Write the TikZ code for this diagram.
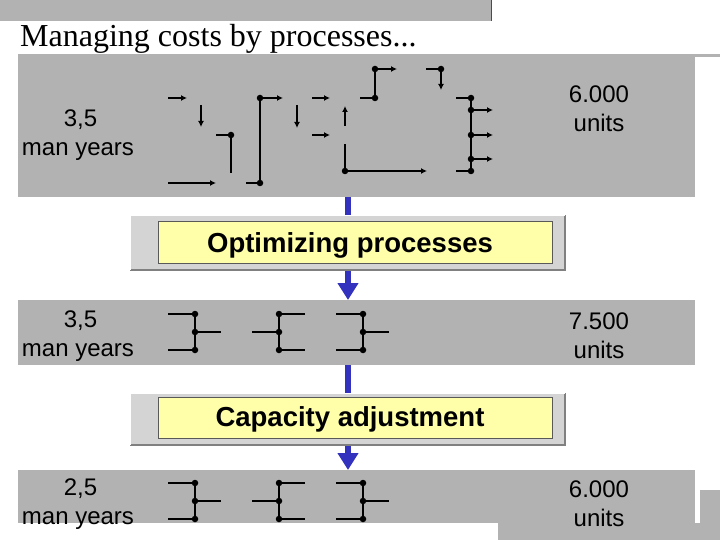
\documentclass[tikz,border=0pt]{standalone}
\usepackage{fontspec}
\setmainfont{Liberation Sans}
\newfontfamily\serifttl{Liberation Serif}
\usetikzlibrary{arrows.meta}
\definecolor{pgray}{RGB}{178,178,178}
\definecolor{lgray}{RGB}{212,212,212}
\definecolor{pyel}{RGB}{255,255,170}
\definecolor{pblue}{RGB}{50,50,190}
\begin{document}
\begin{tikzpicture}[x=1pt,y=-1pt,
  ln/.style={line width=1.8pt},
  ar/.style={line width=1.8pt,-{Latex[length=6pt,width=6pt]}},
  dt/.style={circle,fill=black,inner sep=0pt,minimum size=6.5pt},
  lbl/.style={font=\fontsize{24}{26}\selectfont,align=center,inner sep=0pt},
  boxt/.style={font=\bfseries\fontsize{27.5}{30}\selectfont,inner sep=0pt},
  pics/symA/.style={code={
    \node[dt] (a1) at (0,-18) {}; \node[dt] (a2) at (0,0) {}; \node[dt] (a3) at (0,18) {};
    \coordinate (l1) at (-27,-18); \coordinate (l3) at (-27,18); \coordinate (r2) at (26,0);
    \draw[ln] (l1) -- (a1.center) -- (a3.center) -- (l3); \draw[ln] (a2.center) -- (r2);}},
  pics/symB/.style={code={
    \node[dt] (a1) at (0,-18) {}; \node[dt] (a2) at (0,0) {}; \node[dt] (a3) at (0,18) {};
    \coordinate (l1) at (26,-18); \coordinate (l3) at (26,18); \coordinate (r2) at (-27,0);
    \draw[ln] (l1) -- (a1.center) -- (a3.center) -- (l3); \draw[ln] (a2.center) -- (r2);}}]
\useasboundingbox (0,0) rectangle (720,540);
% frame decorations
\fill[pgray] (0,0) rectangle (491,21);
\draw[gray!60!black] (491,0) -- (491,21);
\fill[pgray] (18,54) rectangle (720,57);
\node[anchor=west,inner sep=0pt,font=\serifttl\fontsize{32}{34}\selectfont] (title) at (20,39) {Managing costs by processes...};
% panels
\fill[pgray] (18,55) rectangle (695,197);
\fill[pgray] (18,300) rectangle (695,365);
\fill[pgray] (18,470) rectangle (695,523);
\fill[pgray] (498,523) rectangle (720,540);
\fill[pgray] (700,490) rectangle (720,523);
% blue arrows
\coordinate (b0) at (348,197);
\coordinate (b1) at (348,300);
\coordinate (b2) at (348,365);
\coordinate (b3) at (348,470);
\draw[pblue,line width=6pt,-{Triangle[length=17pt,width=20pt]}] (b0) -- (b1);
\draw[pblue,line width=6pt,-{Triangle[length=17pt,width=20pt]}] (b2) -- (b3);
% boxes
\fill[lgray] (130,215) rectangle (565,270);
\draw[gray,line width=1.5pt] (130,270) -- (565,270) -- (565,215);
\draw[white] (130,270) -- (130,215) -- (565,215);
\fill[pyel] (158,221) rectangle (552,263);
\draw[gray!70!black] (158,221) rectangle (552,263);
\node[boxt] (opt) at (350,245) {Optimizing processes};
\fill[lgray] (130,393) rectangle (565,445);
\draw[gray,line width=1.5pt] (130,445) -- (565,445) -- (565,393);
\draw[white] (130,445) -- (130,393) -- (565,393);
\fill[pyel] (158,397) rectangle (552,438);
\draw[gray!70!black] (158,397) rectangle (552,438);
\node[boxt] (cap) at (350,419) {Capacity adjustment};
% labels
\node[lbl] (m1) at (78,135) {\hspace*{5pt}3,5\\[3pt]man years};
\node[lbl] (u1) at (599,109) {6.000\\[3pt]units};
\node[lbl] (m2) at (78,336) {\hspace*{5pt}3,5\\[3pt]man years};
\node[lbl] (u2) at (599,336) {7.500\\[3pt]units};
\node[lbl] (m3) at (78,504) {\hspace*{5pt}2,5\\[3pt]man years};
\node[lbl] (u3) at (599,504) {6.000\\[3pt]units};
% top process map
\coordinate (p1) at (168,98); \coordinate (p2) at (187,98); \draw[ar] (p1) -- (p2);
\coordinate (p3) at (201,105); \coordinate (p4) at (201,127); \draw[ar] (p3) -- (p4);
\coordinate (p5) at (216,135); \node[dt] (d1) at (231,135) {}; \coordinate (p6) at (231,173);
\draw[ln] (p5) -- (d1.center) -- (p6);
\coordinate (p7) at (168,183); \coordinate (p8) at (216,183); \draw[ar] (p7) -- (p8);
\coordinate (p9) at (246,183); \node[dt] (d2) at (260,183) {}; \node[dt] (d3) at (260,98) {}; \coordinate (p10) at (283,98);
\draw[ln] (p9) -- (d2.center) -- (d3.center); \draw[ar] (d3.center) -- (p10);
\coordinate (p11) at (297,105); \coordinate (p12) at (297,128); \draw[ar] (p11) -- (p12);
\coordinate (p13) at (312,98); \coordinate (p14) at (330,98); \draw[ar] (p13) -- (p14);
\coordinate (p15) at (312,135); \coordinate (p16) at (330,135); \draw[ar] (p15) -- (p16);
\coordinate (p17) at (345,126); \coordinate (p18) at (345,106); \draw[ar] (p17) -- (p18);
\coordinate (p19) at (345,144); \node[dt] (d4) at (345,171) {}; \coordinate (p20) at (427,171);
\draw[ln] (p19) -- (d4.center); \draw[ar] (d4.center) -- (p20);
\coordinate (p21) at (360,98); \node[dt] (d5) at (375,98) {}; \node[dt] (d6) at (375,69) {}; \coordinate (p22) at (397,69);
\draw[ln] (p21) -- (d5.center) -- (d6.center); \draw[ar] (d6.center) -- (p22);
\coordinate (p23) at (426,69); \node[dt] (d7) at (441,69) {}; \coordinate (p24) at (441,90);
\draw[ln] (p23) -- (d7.center); \draw[ar] (d7.center) -- (p24);
\coordinate (p25) at (456,98); \node[dt] (e1) at (471,98) {}; \node[dt] (e2) at (471,110) {};
\node[dt] (e3) at (471,135) {}; \node[dt] (e4) at (471,159) {}; \node[dt] (e5) at (471,171) {};
\coordinate (p26) at (456,171);
\draw[ln] (p25) -- (e1.center) -- (e5.center) -- (p26);
\coordinate (q1) at (493,110); \coordinate (q2) at (493,135); \coordinate (q3) at (493,159);
\draw[ar] (e2.center) -- (q1); \draw[ar] (e3.center) -- (q2); \draw[ar] (e4.center) -- (q3);
% symbols
\pic at (195,332) {symA}; \pic at (279,332) {symB}; \pic at (363,332) {symA};
\pic at (195,501) {symA}; \pic at (279,501) {symB}; \pic at (363,501) {symA};
\end{tikzpicture}
\end{document}
